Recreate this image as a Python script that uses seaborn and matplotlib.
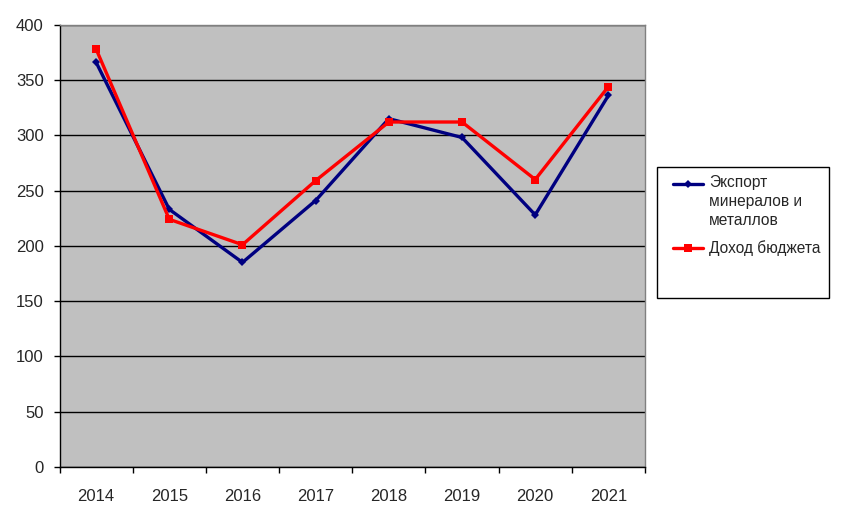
import numpy as np
import pandas as pd
import matplotlib.pyplot as plt
import seaborn as sns
from matplotlib.lines import Line2D
from matplotlib.patches import Rectangle

years = ["2014", "2015", "2016", "2017", "2018", "2019", "2020", "2021"]
export_vals = [366, 233, 185, 241, 315, 298, 228, 336]
budget_vals = [378, 224, 201, 259, 312, 312, 260, 344]
export_name = "Экспорт\nминералов и\nметаллов"
budget_name = "Доход бюджета"

sns.set_style("white")
plt.rcParams["font.family"] = ["Liberation Sans", "DejaVu Sans"]

df = pd.DataFrame({"year": years, "export": export_vals, "budget": budget_vals})
df["pos"] = np.arange(len(years))

W, H = 841, 524
fig = plt.figure(figsize=(W / 100, H / 100), dpi=100)
ax = fig.add_axes([59.5 / W, 1 - 467 / H, (645 - 59.5) / W, (467 - 24.7) / H])
ax.set_facecolor("#C0C0C0")

sns.lineplot(data=df, x="pos", y="export", ax=ax, color="#000080", lw=2.4,
             marker="D", markersize=4.5, markeredgewidth=0, zorder=3)
sns.lineplot(data=df, x="pos", y="budget", ax=ax, color="#FF0000", lw=2.4,
             marker="s", markersize=5.5, markeredgewidth=0, zorder=4)

ax.set_xlim(-0.5, len(years) - 0.5)
ax.set_ylim(0, 400)
ax.set_yticks(range(0, 401, 50))
ax.yaxis.grid(True, color="black", lw=1)
ax.set_axisbelow(True)
ax.set_xticks(df["pos"])
ax.set_xticklabels(years)
ax.set_xticks(np.arange(-0.5, len(years), 1), minor=True)
ax.tick_params(axis="x", which="major", bottom=True, length=0, pad=16, labelsize=12)
ax.tick_params(axis="x", which="minor", bottom=True, length=4.3, width=1, color="black", direction="out")
ax.tick_params(axis="y", left=True, length=4.3, width=1, color="black", direction="out", labelsize=12, pad=7)
ax.set_xlabel("")
ax.set_ylabel("")

for s in ["left", "bottom"]:
    ax.spines[s].set_color("black")
    ax.spines[s].set_linewidth(1)
for s in ["top", "right"]:
    ax.spines[s].set_color("#808080")
    ax.spines[s].set_linewidth(1)

# legend box, Excel style: handle sits on the first text line
def fx(px):
    return px / W

def fy(py):
    return 1 - py / H

fig.patches.append(Rectangle((fx(657), fy(298)), fx(829) - fx(657), fy(167) - fy(298),
                             transform=fig.transFigure, facecolor="white", edgecolor="black", lw=1))
fig.add_artist(Line2D([fx(673), fx(703)], [fy(184), fy(184)], color="#000080", lw=2.4))
fig.add_artist(Line2D([fx(688)], [fy(184)], color="#000080", marker="D", markersize=4.5, markeredgewidth=0))
fig.add_artist(Line2D([fx(673), fx(703)], [fy(248), fy(248)], color="#FF0000", lw=2.4))
fig.add_artist(Line2D([fx(688)], [fy(248)], color="#FF0000", marker="s", markersize=5.5, markeredgewidth=0))
fig.text(fx(709), fy(184 - 8.5), export_name, fontsize=11.2, va="top", ha="left", linespacing=1.32)
fig.text(fx(709), fy(248), budget_name, fontsize=11.2, va="center", ha="left")

fig.savefig("out.png", dpi=100, facecolor="white")
